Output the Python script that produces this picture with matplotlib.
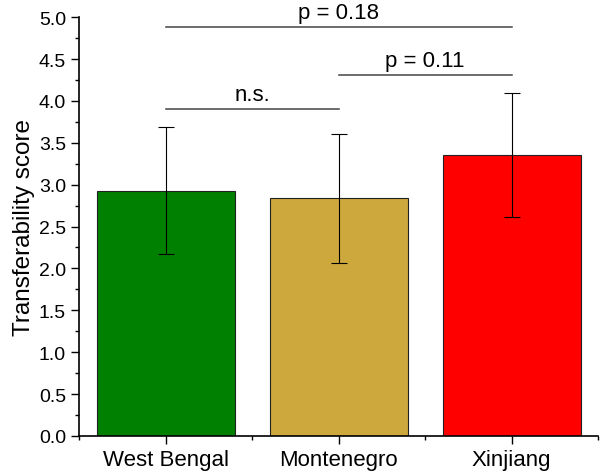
import matplotlib
matplotlib.use('Agg')
import matplotlib.pyplot as plt
from matplotlib.ticker import MultipleLocator

plt.rcParams['font.family'] = ['Liberation Sans', 'DejaVu Sans']

regions = ['West Bengal', 'Montenegro', 'Xinjiang']
scores = [2.93, 2.84, 3.35]
errors = [0.76, 0.77, 0.74]
colors = ['#008000', '#CDA83C', '#FF0000']

# significance brackets: (from, to, height, label)
pairs = [(1, 2, 3.9, 'n.s.'), (2, 3, 4.31, 'p = 0.11'), (1, 3, 4.88, 'p = 0.18')]

fig = plt.figure(figsize=(6, 4.77), dpi=100)
ax = fig.add_axes([0.132, 0.084, 0.865, 0.878])

pos = [1, 2, 3]
ax.bar(pos, scores, width=0.8, color=colors, edgecolor='#222222', linewidth=0.8, zorder=2)
ax.errorbar(pos, scores, yerr=errors, fmt='none', ecolor='black', elinewidth=0.8,
            capsize=6, capthick=0.8, zorder=3)

for a, b, h, lab in pairs:
    ax.plot([a, b], [h, h], color='#444444', lw=1.1)
    ax.text((a + b) / 2, h + 0.05, lab, ha='center', va='bottom', fontsize=16)

ax.set_xlim(0.5, 3.5)
ax.set_ylim(0, 5.0)
ax.set_xticks(pos)
ax.set_xticklabels(regions, fontsize=16)
ax.xaxis.set_minor_locator(MultipleLocator(1, offset=0.5))
ax.yaxis.set_major_locator(MultipleLocator(0.5))
ax.yaxis.set_minor_locator(MultipleLocator(0.25))
ax.yaxis.set_major_formatter(matplotlib.ticker.FormatStrFormatter('%.1f'))
ax.tick_params(axis='y', labelsize=14)
ax.tick_params(which='major', direction='out', length=6, width=1)
ax.tick_params(which='minor', direction='out', length=3, width=1)
ax.set_ylabel('Transferability score', fontsize=17.5, labelpad=3)

ax.spines['top'].set_visible(False)
ax.spines['right'].set_visible(False)
for s in ['left', 'bottom']:
    ax.spines[s].set_linewidth(1.2)

fig.savefig('out.png', dpi=100)
